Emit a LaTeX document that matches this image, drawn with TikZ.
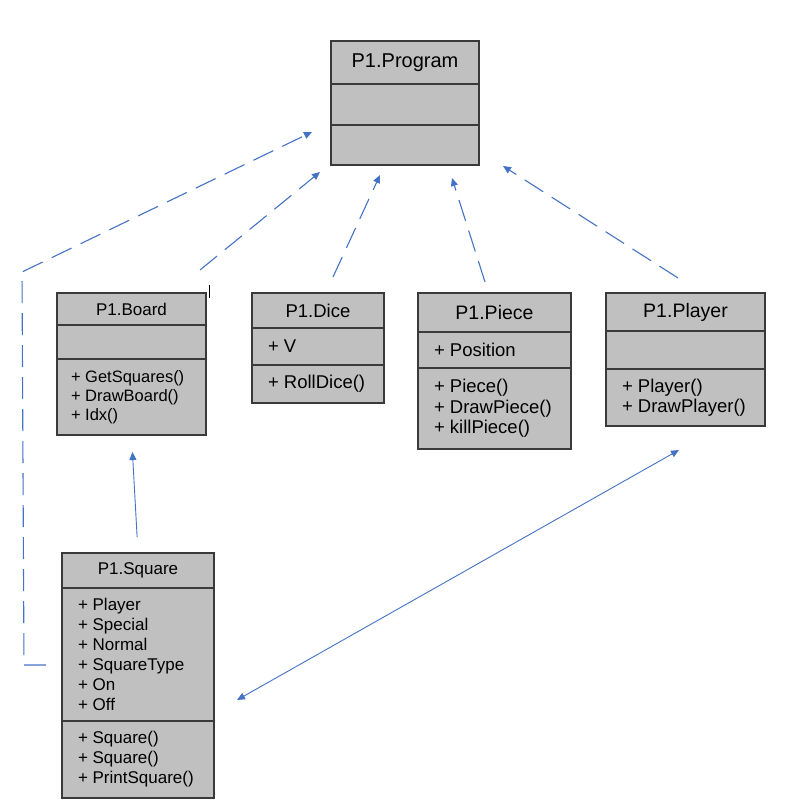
\documentclass[tikz,border=0pt]{standalone}
\usepackage{fontspec}
\setmainfont{Liberation Sans}
\usetikzlibrary{arrows.meta,positioning}
\definecolor{umlfill}{HTML}{C0C0C0}
\definecolor{umlline}{HTML}{3A3A3A}
\definecolor{linkblue}{HTML}{4472C4}

\begin{document}
\begin{tikzpicture}[x=1pt,y=-1pt,>={Triangle[length=8pt,width=7pt]},
                    node distance=0pt, semithick]

  \tikzstyle{compartment} = [draw=umlline, fill=umlfill, line width=1.8pt,
                             inner sep=0pt, outer sep=0pt]
  \tikzstyle{classname}   = [compartment, font=\fontsize{17}{20}\selectfont]
  \tikzstyle{members}     = [compartment, align=flush left, inner xsep=16pt,
                             font=\fontsize{17}{20}\selectfont]
  \tikzstyle{bigger}      = [font=\fontsize{18.5}{20.5}\selectfont]
  \tikzstyle{dep}         = [->, linkblue, line width=1.1pt, dash pattern=on 22pt off 10pt]
  \tikzstyle{assoc}       = [->, linkblue, line width=0.9pt]

  \useasboundingbox (0,0) rectangle (786,812);

  % classes
  \node[classname, minimum width=148pt, minimum height=43pt,
        font=\fontsize{20}{24}\selectfont]         (ProgramT) at (405,62.5) {P1.Program};
  \node[compartment, minimum width=148pt, minimum height=41pt, below=of ProgramT] (ProgramA) {};
  \node[compartment, minimum width=148pt, minimum height=40pt, below=of ProgramA] (ProgramO) {};

  \node[classname, minimum width=149pt, minimum height=32pt] (BoardT) at (131.5,309) {P1.Board};
  \node[compartment, minimum width=149pt, minimum height=34pt, below=of BoardT] (BoardA) {};
  \node[members, inner xsep=14pt, text width=121pt, minimum height=76pt, below=of BoardA,
        font=\fontsize{16.5}{19}\selectfont] (BoardO)
        {+ GetSquares()\\+ DrawBoard()\\+ Idx()};

  \node[classname, minimum width=132pt, minimum height=35pt,
        font=\fontsize{18.5}{20}\selectfont] (DiceT) at (318,310.5) {P1.Dice};
  \node[members, bigger, text width=100pt, minimum height=37pt, below=of DiceT] (DiceA) {+ V};
  \node[members, bigger, text width=100pt, minimum height=38pt, below=of DiceA] (DiceO) {+ RollDice()};

  \node[classname, minimum width=153pt, minimum height=39pt,
        font=\fontsize{19.5}{20}\selectfont] (PieceT) at (494.5,312.5) {P1.Piece};
  \node[members, bigger, text width=121pt, minimum height=36pt, below=of PieceT] (PieceA) {+ Position};
  \node[members, bigger, text width=121pt, minimum height=81pt, below=of PieceA] (PieceO)
        {+ Piece()\\+ DrawPiece()\\+ killPiece()};

  \node[classname, minimum width=159pt, minimum height=38pt,
        font=\fontsize{19.5}{20}\selectfont] (PlayerT) at (685.5,312) {P1.Player};
  \node[compartment, minimum width=159pt, minimum height=38pt, below=of PlayerT] (PlayerA) {};
  \node[members, bigger, text width=127pt, minimum height=57pt, below=of PlayerA] (PlayerO)
        {+ Player()\\+ DrawPlayer()};

  \node[classname, minimum width=152pt, minimum height=35pt] (SquareT) at (138,570.5) {P1.Square};
  \node[members, text width=120pt, minimum height=133pt, below=of SquareT] (SquareA)
        {+ Player\\+ Special\\+ Normal\\+ SquareType\\+ On\\+ Off};
  \node[members, text width=120pt, minimum height=77pt, below=of SquareA] (SquareO)
        {+ Square()\\+ Square()\\+ PrintSquare()};

  % free ends of the connectors
  \coordinate (sq-out)    at (46,665);
  \coordinate (bend-low)  at (24,665);
  \coordinate (bend-high) at (22,272);
  \coordinate (prog-w)    at (312,132);
  \coordinate (board-out) at (200,270);
  \coordinate (prog-sw)   at (320,172);
  \coordinate (dice-out)  at (333,277);
  \coordinate (prog-s1)   at (380,175);
  \coordinate (piece-out) at (485,282);
  \coordinate (prog-s2)   at (452,178);
  \coordinate (player-out) at (678,278);
  \coordinate (prog-se)   at (503,166);
  \coordinate (sq-e)      at (237,700);
  \coordinate (player-s)  at (679,450);

  \draw[dep] (sq-out) -- (bend-low) -- (bend-high) -- (prog-w);
  \draw[dep] (board-out)  -- (prog-sw);
  \draw[dep] (dice-out)   -- (prog-s1);
  \draw[dep] (piece-out)  -- (prog-s2);
  \draw[dep] (player-out) -- (prog-se);
  \draw[assoc, shorten <=16pt, shorten >=17pt] (SquareT.north) -- (BoardO.south);
  \draw[assoc, <->] (sq-e) -- (player-s);

  \draw[black, line width=1pt] (209,285) -- (209,298);
\end{tikzpicture}
\end{document}
